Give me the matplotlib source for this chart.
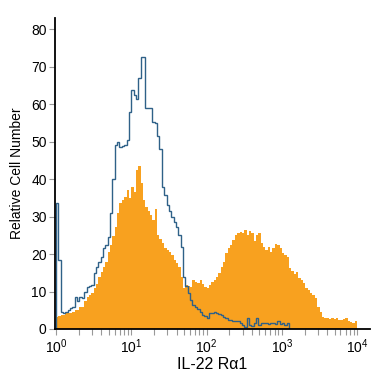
import numpy as np
from matplotlib import pyplot as plt
from matplotlib import font_manager
from matplotlib.ticker import LogLocator, LogFormatterMathtext

# 128 channels over 4 decades (32 per decade)
orange_counts = [
    3.3, 3.4, 3.7, 3.8, 4.3, 4.2, 4.4, 4.5, 5.0, 5.1,
    6.0, 5.8, 7.5, 8.6, 9.0, 9.6, 10.9, 12.0, 13.8, 15.2,
    16.6, 18.0, 20.5, 22.5, 24.8, 27.3, 31.0, 33.6, 34.4, 35.3,
    37.0, 35.0, 38.0, 36.5, 42.4, 43.5, 39.0, 34.4, 32.6, 31.5,
    30.5, 29.0, 32.0, 25.0, 24.0, 22.9, 21.5, 21.0, 20.6, 19.7,
    18.5, 17.6, 16.6, 14.0, 11.0, 11.7, 11.5, 11.3, 13.0, 12.5,
    12.2, 13.0, 12.0, 11.3, 11.0, 11.8, 12.6, 13.0, 14.0, 15.0,
    16.5, 18.0, 20.2, 21.5, 22.5, 23.7, 25.0, 25.5, 26.0, 25.6,
    26.4, 25.0, 26.2, 25.6, 23.5, 25.0, 25.6, 23.0, 22.0, 21.0,
    22.0, 20.6, 21.5, 22.8, 22.5, 21.5, 20.2, 19.8, 19.3, 16.2,
    15.5, 14.8, 15.3, 13.5, 13.0, 12.2, 11.0, 10.4, 9.6, 9.0,
    8.2, 6.0, 4.5, 3.3, 2.8, 2.8, 2.6, 2.9, 2.7, 2.8,
    2.5, 2.4, 2.6, 2.8, 2.0, 1.8, 1.5, 2.0,
]

blue_counts = [
    33.6, 18.4, 4.6, 4.3, 4.6, 5.0, 5.5, 6.0, 8.6, 7.6,
    8.6, 8.4, 10.0, 11.3, 11.5, 11.8, 14.9, 16.5, 17.8, 19.3,
    21.6, 22.5, 24.6, 30.9, 40.0, 49.0, 50.0, 48.5, 48.8, 49.0,
    50.4, 57.8, 63.9, 62.5, 61.5, 67.0, 72.6, 72.6, 59.0, 59.0,
    59.0, 55.2, 55.0, 51.5, 48.0, 38.0, 35.7, 33.0, 31.5, 30.0,
    28.5, 27.3, 25.0, 22.0, 14.0, 11.5, 9.5, 7.7, 6.5, 6.0,
    5.4, 4.6, 3.7, 3.5, 2.8, 4.3, 4.3, 4.5, 4.3, 4.0,
    3.7, 3.2, 2.8, 2.5, 2.5, 2.0, 2.0, 2.0, 1.5, 1.0,
    0.6, 3.0, 1.0, 0.8, 1.5, 2.8, 1.0, 1.5, 1.5, 1.5,
    1.2, 1.5, 1.5, 1.3, 2.0, 1.2, 1.5, 1.0, 1.5, 0.0,
    0.0, 0.0, 0.0, 0.0, 0.0, 0.0, 0.0, 0.0, 0.0, 0.0,
    0.0, 0.0, 0.0, 0.0, 0.0, 0.0, 0.0, 0.0, 0.0, 0.0,
    0.0, 0.0, 0.0, 0.0, 0.0, 0.0, 0.0, 0.0,
]

y_ticks = [0, 10, 20, 30, 40, 50, 60, 70, 80]

installed = {f.name for f in font_manager.fontManager.ttflist}
font = 'Liberation Sans Narrow' if 'Liberation Sans Narrow' in installed else 'Liberation Sans'
plt.rcParams['font.family'] = [font, 'DejaVu Sans']
plt.rcParams['mathtext.fontset'] = 'custom'
plt.rcParams['mathtext.rm'] = font

edges = np.logspace(0, 4, len(orange_counts) + 1)

fig = plt.figure(figsize=(3.75, 3.75), dpi=100)
ax = fig.add_axes([0.1467, 0.1227, 0.84, 0.8293])

ax.stairs(orange_counts, edges, fill=True, color='#F8A11F', linewidth=0)
ax.stairs(blue_counts, edges, color='#2F6188', linewidth=1.0)

ax.set_xscale('log')
ax.set_xlim(10 ** -0.012, 10 ** 4.17)
ax.set_ylim(0, 83)

ax.xaxis.set_major_locator(LogLocator(base=10, numticks=10))
ax.xaxis.set_minor_locator(LogLocator(base=10, subs=np.arange(2, 10), numticks=10))
ax.xaxis.set_major_formatter(LogFormatterMathtext())
ax.set_yticks(y_ticks)

for s in ['top', 'right']:
    ax.spines[s].set_visible(False)
for s in ['left', 'bottom']:
    ax.spines[s].set_linewidth(1.3)

ax.tick_params(axis='both', which='both', direction='out', length=4,
               width=0.8, color='#999999', labelsize=10, pad=2)
ax.tick_params(axis='x', which='minor', length=4)

ax.set_ylabel('Relative Cell Number', fontsize=10, labelpad=5)
ax.set_xlabel('IL-22 R\u03b11', fontsize=11.5, labelpad=1)

fig.savefig('out.png', dpi=100)
